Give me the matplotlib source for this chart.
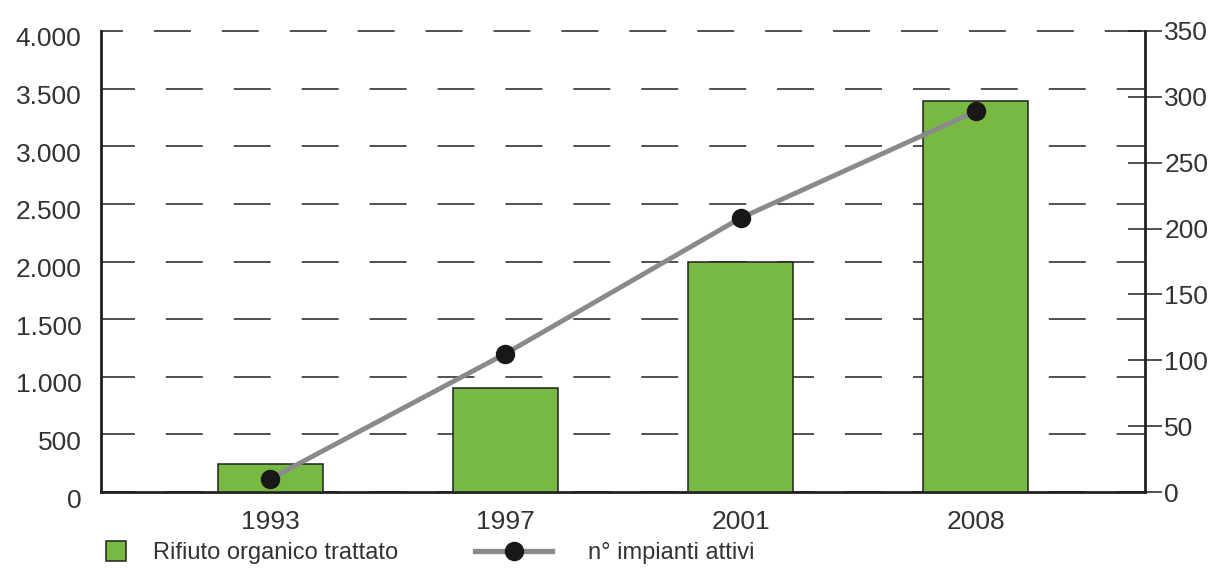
import numpy as np
import matplotlib
matplotlib.use('Agg')
import matplotlib.pyplot as plt
import matplotlib.transforms as mtransforms
from matplotlib.lines import Line2D

plt.rcParams['font.family'] = ['Liberation Sans', 'DejaVu Sans']
plt.rcParams['lines.scale_dashes'] = False

# data
years = ['1993', '1997', '2001', '2008']
rifiuto = [243, 904, 2000, 3391]        # left axis
impianti = [10, 105, 208, 289]          # right axis
left_ticks = [0, 500, 1000, 1500, 2000, 2500, 3000, 3500, 4000]
left_labels = ['0', '500', '1.000', '1.500', '2.000', '2.500', '3.000', '3.500', '4.000']
right_ticks = [0, 50, 100, 150, 200, 250, 300, 350]

txt_col = '#333333'
green = '#78b943'
dark = '#231f20'
grey = '#8a8a8a'

fig = plt.figure(figsize=(12.18, 5.70), dpi=100)
ax = fig.add_axes([101/1218, 1 - 492/570, (1145 - 101)/1218, (492 - 31)/570])
ax2 = ax.twinx()

x = np.arange(len(years))
ax.bar(x, rifiuto, width=0.447, color=green, edgecolor=dark, linewidth=1.1, zorder=3)
ax.set_xlim(-0.72, 3.72)
ax.set_ylim(0, 4000)
ax.set_xticks(x)
ax.set_xticklabels(years)
ax.set_yticks(left_ticks)
ax.set_yticklabels(left_labels)
ax.tick_params(axis='x', length=0, pad=13, labelsize=19, labelcolor=txt_col)
ax.tick_params(axis='y', length=0, pad=14, labelsize=19, labelcolor=txt_col)
ax.set_axisbelow(True)
ax.grid(axis='y', color=dark, linewidth=1.1, linestyle=(2.2, (26.6, 22.3)))
ax.grid(axis='x', visible=False)
top_line = ax.get_ygridlines()[-1]
top_line.set_linestyle((10.8, (26.6, 22.3)))
top_line.set_clip_on(False)

# left labels sit a little below their gridline in the original
shift = mtransforms.ScaledTranslation(0, -6/100, fig.dpi_scale_trans)
for lab in ax.get_yticklabels():
    lab.set_transform(lab.get_transform() + shift)

ax2.plot(x, impianti, color=grey, linewidth=3.5, marker='o', markersize=13,
         markerfacecolor='#1a1717', markeredgecolor='#1a1717', zorder=4)
ax2.set_ylim(0, 350)
ax2.set_yticks(right_ticks)
ax2.tick_params(axis='y', direction='inout', length=24, width=1.1, color=dark,
                pad=2, labelsize=19, labelcolor=txt_col)

for a in (ax, ax2):
    a.spines['top'].set_visible(False)
    for s in ('left', 'right', 'bottom'):
        a.spines[s].set_linewidth(2.0)
        a.spines[s].set_color(dark)
ax.spines['right'].set_visible(False)
ax2.spines['left'].set_visible(False)
ax2.spines['bottom'].set_visible(False)

# legend below the plot, two separate entries
h1 = Line2D([], [], linestyle='none', marker='s', markersize=15,
            markerfacecolor=green, markeredgecolor=dark, markeredgewidth=1.1)
h2 = Line2D([], [], color=grey, linewidth=3.8, marker='o', markersize=13,
            markerfacecolor='#1a1717', markeredgecolor='#1a1717')
fig.legend([h1], ['Rifiuto organico trattato'], loc='center left',
           bbox_to_anchor=(105/1218, 1 - 553/570), frameon=False, fontsize=17,
           borderpad=0, borderaxespad=0, handlelength=0.9, handletextpad=1.15,
           labelcolor=txt_col)
fig.legend([h2], ['n° impianti attivi'], loc='center left',
           bbox_to_anchor=(475/1218, 1 - 553/570), frameon=False, fontsize=17,
           borderpad=0, borderaxespad=0, handlelength=3.27, handletextpad=1.5,
           numpoints=1, labelcolor=txt_col)

plt.savefig('out.png', dpi=100)
